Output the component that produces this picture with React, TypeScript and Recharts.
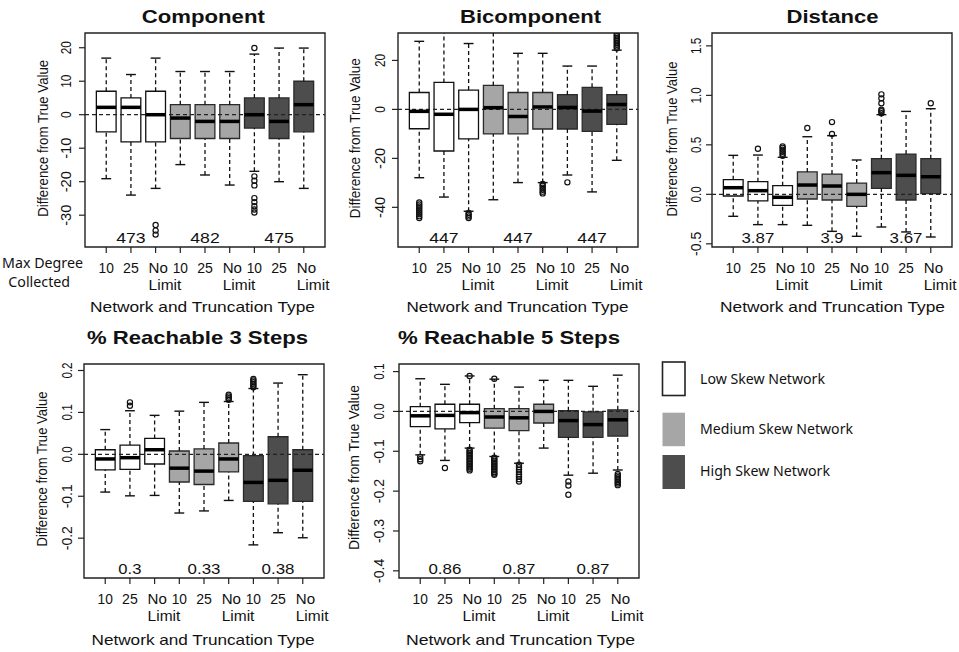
import React from "react";
import {
  ComposedChart,
  XAxis,
  YAxis,
  ReferenceArea,
  ReferenceLine,
  ReferenceDot,
  Scatter,
} from "recharts";

// box positions and tick labels (3 skew groups x 3 truncation types)
const positions = [1, 2, 3, 4, 5, 6, 7, 8, 9];
const truncLabels = ["10", "25", "No Limit", "10", "25", "No Limit", "10", "25", "No Limit"];
const skewGroups = ["Low Skew Network", "Medium Skew Network", "High Skew Network"];
const skewFill = ["#ffffff", "#a6a6a6", "#4d4d4d"];
const countPositions = [2, 5, 8];

// [lower whisker, q1, median, q3, upper whisker]
const componentBoxes = [
  [-19.1, -5.1, 2.2, 7, 16.9],
  [-24, -8.1, 2.2, 5, 12],
  [-22, -8.1, 0, 7, 16.9],
  [-14.9, -7.1, -1, 3, 12.9],
  [-18, -7.1, -2, 3, 12.9],
  [-21, -7.1, -2, 3, 12.9],
  [-16.9, -4, 0, 5, 18.1],
  [-20, -7.1, -2, 5, 19.9],
  [-22, -5.1, 3, 10, 19.9],
];
const componentOutliers = [
  [3, -32.9], [3, -34.6], [3, -35.8],
  [7, 19.9], [7, -18.4], [7, -19.7], [7, -21.1], [7, -24.9], [7, -26.1], [7, -27.3], [7, -28.3], [7, -29.2],
];
const componentCounts = ["473", "482", "475"];

const bicomponentBoxes = [
  [-27.9, -7.9, -0.8, 6.9, 27.8],
  [-35.8, -17, -2, 11, 33],
  [-41.6, -12, 0, 7.9, 26.9],
  [-36.9, -10, 0.7, 9.8, 33],
  [-29.9, -10, -2.9, 6.9, 22.9],
  [-29.9, -8, 1, 6.9, 22.9],
  [-26.8, -8, 0.8, 6, 17.7],
  [-33.7, -9, -0.7, 9, 17.7],
  [-20.8, -6.1, 2, 6, 24.2],
];
const bicomponentOutliers = [
  [1, -38], [1, -38.8], [1, -39.6], [1, -40.4], [1, -41.2], [1, -42], [1, -42.8], [1, -43.6], [1, -44.4],
  [3, -42.3], [3, -43], [3, -43.7], [3, -44.4],
  [6, -30.5], [6, -31.2], [6, -32], [6, -32.8], [6, -33.6], [6, -34.3],
  [7, -29.8],
  [9, 25], [9, 25.7], [9, 26.4], [9, 27.1], [9, 27.8], [9, 28.5], [9, 29.2], [9, 29.9], [9, 30.6],
];
const bicomponentCounts = ["447", "447", "447"];

const distanceBoxes = [
  [-0.222, -0.017, 0.067, 0.148, 0.394],
  [-0.306, -0.067, 0.037, 0.128, 0.397],
  [-0.306, -0.111, -0.03, 0.088, 0.374],
  [-0.313, -0.047, 0.094, 0.226, 0.582],
  [-0.374, -0.057, 0.084, 0.205, 0.593],
  [-0.424, -0.121, 0, 0.114, 0.347],
  [-0.33, 0.061, 0.219, 0.36, 0.805],
  [-0.38, -0.057, 0.192, 0.407, 0.838],
  [-0.431, 0.007, 0.178, 0.36, 0.865],
];
const distanceOutliers = [
  [2, 0.46],
  [3, 0.39], [3, 0.41], [3, 0.43], [3, 0.45], [3, 0.47], [3, 0.485],
  [4, 0.67],
  [5, 0.61], [5, 0.73],
  [7, 0.82], [7, 0.84], [7, 0.855], [7, 0.92], [7, 0.97], [7, 1.01],
  [9, 0.92],
];
const distanceCounts = ["3.87", "3.9", "3.67"];

const reach3Boxes = [
  [-0.09, -0.037, -0.011, 0.011, 0.059],
  [-0.099, -0.036, -0.008, 0.022, 0.104],
  [-0.098, -0.023, 0.011, 0.038, 0.093],
  [-0.14, -0.066, -0.033, 0.008, 0.103],
  [-0.135, -0.072, -0.04, 0.013, 0.124],
  [-0.11, -0.042, -0.011, 0.027, 0.126],
  [-0.216, -0.112, -0.067, -0.003, 0.157],
  [-0.187, -0.118, -0.062, 0.042, 0.17],
  [-0.199, -0.112, -0.038, 0.011, 0.19],
];
const reach3Outliers = [
  [2, 0.116], [2, 0.124],
  [6, 0.13], [6, 0.134], [6, 0.138], [6, 0.142],
  [7, 0.16], [7, 0.164], [7, 0.168], [7, 0.172], [7, 0.176], [7, 0.18],
];
const reach3Counts = ["0.3", "0.33", "0.38"];

const reach5Boxes = [
  [-0.109, -0.038, -0.011, 0.012, 0.082],
  [-0.123, -0.044, -0.01, 0.018, 0.068],
  [-0.092, -0.028, -0.003, 0.018, 0.089],
  [-0.113, -0.042, -0.014, 0.007, 0.081],
  [-0.13, -0.048, -0.016, 0.007, 0.061],
  [-0.092, -0.029, 0, 0.018, 0.078],
  [-0.16, -0.065, -0.023, 0.002, 0.078],
  [-0.155, -0.065, -0.033, -0.001, 0.063],
  [-0.147, -0.062, -0.021, 0.004, 0.091],
];
const reach5Outliers = [
  [1, -0.114], [1, -0.12], [1, -0.125],
  [2, -0.142],
  [3, 0.089], [3, -0.096], [3, -0.1], [3, -0.104], [3, -0.108], [3, -0.112], [3, -0.116], [3, -0.12],
  [3, -0.124], [3, -0.128], [3, -0.132], [3, -0.136], [3, -0.14], [3, -0.144], [3, -0.148],
  [4, 0.082], [4, -0.116], [4, -0.12], [4, -0.124], [4, -0.128], [4, -0.132], [4, -0.136], [4, -0.14],
  [4, -0.144], [4, -0.148], [4, -0.152], [4, -0.156], [4, -0.159],
  [5, -0.134], [5, -0.14], [5, -0.146], [5, -0.152], [5, -0.158], [5, -0.164], [5, -0.17], [5, -0.176],
  [7, -0.176], [7, -0.186], [7, -0.209],
  [9, -0.157], [9, -0.161], [9, -0.165], [9, -0.169], [9, -0.173], [9, -0.177], [9, -0.181], [9, -0.185],
];
const reach5Counts = ["0.86", "0.87", "0.87"];

// layout of the five plot regions (page px)
const PW = 240;
const PH = 214;
const ML = 80; // chart px left of the plot box
const MT = 40;
const MR = 8;
const MB = 72;
const YW = 40;
const XH = 30;

const FONT = '"Liberation Sans", Arial, Helvetica, sans-serif';
const LEGEND_FONT = '"Noto Sans", "Open Sans", sans-serif';

const panels = [
  {
    title: "Component", boxes: componentBoxes, outliers: componentOutliers, counts: componentCounts,
    left: 84.7, top: 33, domain: [-39.5, 24.4], ticks: [-30, -20, -10, 0, 10, 20], digits: 0, tickGap: 14,
    titleX: 203.3, titleY: 23.3, titleW: 123, yTitleX: 48.5, yTitleY: 138.3, yTitleW: 157, xTitleX: 202.5, xTitleY: 311.7, xTitleW: 225,
  },
  {
    title: "Bicomponent", boxes: bicomponentBoxes, outliers: bicomponentOutliers, counts: bicomponentCounts,
    left: 397.7, top: 33, domain: [-56.2, 31.2], ticks: [-40, -20, 0, 20], digits: 0, tickGap: 13,
    titleX: 530.5, titleY: 23.3, titleW: 141, yTitleX: 360, yTitleY: 138.3, yTitleW: 160, xTitleX: 517.5, xTitleY: 311.7, xTitleW: 222,
  },
  {
    title: "Distance", boxes: distanceBoxes, outliers: distanceOutliers, counts: distanceCounts,
    left: 712, top: 33, domain: [-0.532, 1.63], ticks: [-0.5, 0, 0.5, 1, 1.5], digits: 1, tickGap: 10.5,
    titleX: 832.5, titleY: 22.7, titleW: 92, yTitleX: 676.5, yTitleY: 139, yTitleW: 155, xTitleX: 832.5, xTitleY: 311.7, xTitleW: 225,
  },
  {
    title: "% Reachable 3 Steps", boxes: reach3Boxes, outliers: reach3Outliers, counts: reach3Counts,
    left: 84, top: 364.3, domain: [-0.295, 0.2155], ticks: [-0.2, -0.1, 0, 0.1, 0.2], digits: 1, tickGap: 11.5,
    titleX: 197.5, titleY: 344, titleW: 221, yTitleX: 46.5, yTitleY: 469, yTitleW: 155, xTitleX: 203, xTitleY: 645, xTitleW: 223,
  },
  {
    title: "% Reachable 5 Steps", boxes: reach5Boxes, outliers: reach5Outliers, counts: reach5Counts,
    left: 399, top: 364.3, domain: [-0.418, 0.119], ticks: [-0.4, -0.3, -0.2, -0.1, 0, 0.1], digits: 1, tickGap: 15,
    titleX: 509, titleY: 344, titleW: 222, yTitleX: 359, yTitleY: 467.5, yTitleW: 165, xTitleX: 520.5, xTitleY: 645, xTitleW: 229,
  },
];

const xTickWidth: Record<string, number> = { "10": 15.3, "25": 15.7, No: 19.3, Limit: 32.7 };

function rotatedLen(s: string) {
  let w = 0;
  for (const ch of s) w += ch === "." ? 3 : ch === "-" ? 8 : 6.6;
  return w;
}

function countLen(s: string) {
  let w = 0;
  for (const ch of s) w += ch === "." ? 3.5 : 9.8;
  return w;
}

function XTick(props: any) {
  const { x, payload } = props;
  const label = truncLabels[payload.value - 1] ?? "";
  const base = MT + PH + 25.7;
  if (label === "No Limit") {
    return (
      <g fontFamily={FONT} fontSize={15} fill="#111">
        <text x={x - 7} y={base} textAnchor="start" textLength={xTickWidth.No} lengthAdjust="spacingAndGlyphs">No</text>
        <text x={x - 7} y={base + 17.5} textAnchor="start" textLength={xTickWidth.Limit} lengthAdjust="spacingAndGlyphs">Limit</text>
      </g>
    );
  }
  return (
    <text x={x} y={base} textAnchor="middle" fontFamily={FONT} fontSize={15} fill="#111"
      textLength={xTickWidth[label] ?? 15} lengthAdjust="spacingAndGlyphs">
      {label}
    </text>
  );
}

function makeYTick(digits: number, gap: number) {
  return (props: any) => {
    const { y, payload } = props;
    const s = Number(payload.value).toFixed(digits);
    const bx = ML - gap;
    return (
      <text x={bx} y={y} transform={`rotate(-90 ${bx} ${y})`} textAnchor="middle" fontFamily={FONT}
        fontSize={15} fill="#111" textLength={rotatedLen(s)} lengthAdjust="spacingAndGlyphs">
        {s}
      </text>
    );
  };
}

function Outlier(props: any) {
  const { cx, cy } = props;
  if (cx == null || cy == null) return null;
  return <circle cx={cx} cy={cy} r={2.6} fill="none" stroke="#111" strokeWidth={1.2} />;
}

function BoxPanel({ p }: { p: (typeof panels)[number] }) {
  const pts = p.outliers.map(([i, v]) => ({ x: i, y: v }));
  const [ymin, ymax] = p.domain;
  return (
    <div style={{ position: "absolute", left: p.left - ML, top: p.top - MT }}>
      <ComposedChart width={PW + ML + MR} height={PH + MT + MB}
        margin={{ top: MT, left: ML - YW, right: MR, bottom: MB - XH }}>
        <XAxis type="number" dataKey="x" domain={[0.14, 9.86]} ticks={positions} interval={0}
          allowDataOverflow axisLine={false} tickLine={{ stroke: "#222", strokeWidth: 1.2 }}
          tickSize={6} height={XH} tick={<XTick />} />
        <YAxis type="number" dataKey="y" domain={p.domain} ticks={p.ticks} interval={0}
          allowDataOverflow axisLine={false} tickLine={{ stroke: "#222", strokeWidth: 1.2 }}
          tickSize={6} width={YW} tick={makeYTick(p.digits, p.tickGap)} />
        {p.boxes.map((b, k) => (
          <ReferenceArea key={`box${k}`} x1={positions[k] - 0.4} x2={positions[k] + 0.4} y1={b[1]} y2={b[3]}
            fill={skewFill[Math.floor(k / 3)]} fillOpacity={1} stroke={k < 3 ? "#111" : "#2a2a2a"}
            strokeWidth={1.3} ifOverflow="hidden" />
        ))}
        <ReferenceArea x1={0.14} x2={9.86} y1={ymin} y2={ymax} fill="none" stroke="#222"
          strokeWidth={1.4} ifOverflow="visible" />
        {p.boxes.map((b, k) => {
          const x = positions[k];
          return [
            <ReferenceLine key={`wu${k}`} segment={[{ x, y: b[3] }, { x, y: b[4] }]} stroke="#111"
              strokeWidth={1.3} strokeDasharray="4 3" ifOverflow="hidden" />,
            <ReferenceLine key={`wl${k}`} segment={[{ x, y: b[0] }, { x, y: b[1] }]} stroke="#111"
              strokeWidth={1.3} strokeDasharray="4 3" ifOverflow="hidden" />,
            <ReferenceLine key={`cu${k}`} segment={[{ x: x - 0.2, y: b[4] }, { x: x + 0.2, y: b[4] }]}
              stroke="#111" strokeWidth={1.4} ifOverflow="hidden" />,
            <ReferenceLine key={`cl${k}`} segment={[{ x: x - 0.2, y: b[0] }, { x: x + 0.2, y: b[0] }]}
              stroke="#111" strokeWidth={1.4} ifOverflow="hidden" />,
          ];
        })}
        <ReferenceLine y={0} stroke="#222" strokeWidth={1.2} strokeDasharray="4 3" ifOverflow="hidden" />
        {p.boxes.map((b, k) => (
          <ReferenceLine key={`md${k}`} segment={[{ x: positions[k] - 0.4, y: b[2] }, { x: positions[k] + 0.4, y: b[2] }]}
            stroke="#000" strokeWidth={3.5} ifOverflow="hidden" />
        ))}
        <Scatter data={pts} dataKey="y" shape={<Outlier />} isAnimationActive={false} />
        {p.counts.map((c, k) => (
          <ReferenceDot key={`n${k}`} x={countPositions[k]} y={ymin} r={0} ifOverflow="visible"
            shape={(sp: any) => (
              <text x={sp.cx} y={sp.cy - 4} textAnchor="middle" fontFamily={FONT} fontSize={14} fill="#111"
                textLength={countLen(c)} lengthAdjust="spacingAndGlyphs">
                {c}
              </text>
            )} />
        ))}
      </ComposedChart>
    </div>
  );
}

function PanelText({ p }: { p: (typeof panels)[number] }) {
  return (
    <g fontFamily={FONT} fill="#111">
      <text x={p.titleX} y={p.titleY} textAnchor="middle" fontSize={19} fontWeight="bold"
        textLength={p.titleW} lengthAdjust="spacingAndGlyphs">{p.title}</text>
      <text x={p.yTitleX} y={p.yTitleY} transform={`rotate(-90 ${p.yTitleX} ${p.yTitleY})`} textAnchor="middle"
        fontSize={14.5} textLength={p.yTitleW} lengthAdjust="spacingAndGlyphs">Difference from True Value</text>
      <text x={p.xTitleX} y={p.xTitleY} textAnchor="middle" fontSize={14.3}
        textLength={p.xTitleW} lengthAdjust="spacingAndGlyphs">Network and Truncation Type</text>
    </g>
  );
}

const legendBoxes = [
  { y: 362, h: 33.5, text: 384.3, w: 125 },
  { y: 412.7, h: 33.5, text: 434.3, w: 153 },
  { y: 455, h: 34, text: 475.7, w: 130 },
];

export default function App() {
  return (
    <div style={{ position: "absolute", left: 0, top: 0, width: 959, height: 652, background: "#fff", overflow: "hidden" }}>
      {panels.map((p) => (
        <BoxPanel key={p.title} p={p} />
      ))}
      <svg width={959} height={652} style={{ position: "absolute", left: 0, top: 0, pointerEvents: "none" }}>
        {panels.map((p) => (
          <PanelText key={p.title} p={p} />
        ))}
        <g fontFamily={LEGEND_FONT} fill="#111" fontSize={15}>
          <text x={42.5} y={268.3} textAnchor="middle" textLength={81} lengthAdjust="spacingAndGlyphs">Max Degree</text>
          <text x={39.2} y={286.7} textAnchor="middle" textLength={61.7} lengthAdjust="spacingAndGlyphs">Collected</text>
        </g>
        <g fontFamily={LEGEND_FONT} fontSize={15} fill="#111">
          {skewGroups.map((g, k) => (
            <g key={g}>
              <rect x={662.5} y={legendBoxes[k].y} width={22.5} height={legendBoxes[k].h} fill={skewFill[k]}
                stroke={k === 0 ? "#222" : "none"} strokeWidth={1.6} />
              <text x={700} y={legendBoxes[k].text} textLength={legendBoxes[k].w} lengthAdjust="spacingAndGlyphs">{g}</text>
            </g>
          ))}
        </g>
      </svg>
    </div>
  );
}
